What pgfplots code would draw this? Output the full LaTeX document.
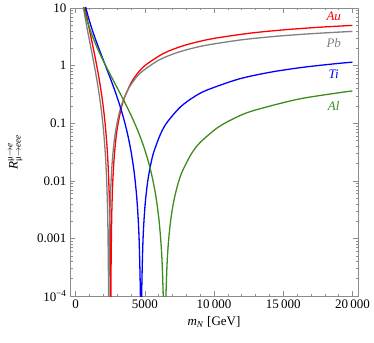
\documentclass[border=0pt]{standalone}
\usepackage{pgfplots}
\pgfplotsset{compat=1.18}
\usepackage{amsmath}
\usepackage{fontspec}
\setmainfont{Liberation Serif}

\definecolor{auRed}{RGB}{255,0,0}
\definecolor{pbGray}{RGB}{128,128,128}
\definecolor{tiBlue}{RGB}{0,0,255}
\definecolor{alGreen}{RGB}{60,140,30}

\begin{document}
\begin{tikzpicture}

\begin{axis}[
    at={(0,0)},
    anchor=south west,
    scale only axis,
    width=288pt,
    height=288pt,
    xmin=-400, xmax=20400,
    ymode=log,
    ymin=1e-4, ymax=10,
    scaled x ticks=false,
    xtick={0,5000,10000,15000,20000},
    xticklabels={0,5000,10\,000,15\,000,20\,000},
    minor x tick num=4,
    ytick={1e-4,1e-3,1e-2,1e-1,1,10},
    yticklabels={10\textsuperscript{−4},0.001,0.01,0.1,1,10},
    minor ytick={2e-4,3e-4,4e-4,5e-4,6e-4,7e-4,8e-4,9e-4,
                 2e-3,3e-3,4e-3,5e-3,6e-3,7e-3,8e-3,9e-3,
                 0.02,0.03,0.04,0.05,0.06,0.07,0.08,0.09,
                 0.2,0.3,0.4,0.5,0.6,0.7,0.8,0.9,
                 2,3,4,5,6,7,8,9},
    tick align=inside,
    major tick length=5pt,
    minor tick length=2.5pt,
    axis line style={black!45},
    every tick/.style={black!45},
    tick label style={font=\fontsize{13}{15}\selectfont},
    xlabel={\textit{m}\textsubscript{\textit{N}} [GeV]},
    ylabel={$\textit{R}^{\text{μ}\rightarrow\textit{e}}_{\text{μ}\rightarrow\textit{eee}}$},
    label style={font=\fontsize{13}{15}\selectfont},
    xlabel style={at={(axis description cs:0.5,-0.09)},anchor=center},
    ylabel style={at={(axis description cs:-0.19,0.5)},anchor=center},
    every axis plot/.append style={line width=1.3pt, smooth},
]

% Au
\addplot[auRed] coordinates {
(635,12.041) (762,8.209) (889,5.738) (1016,4.066) (1143,2.899) (1270,2.066)
(1397,1.4615) (1524,1.0196) (1651,0.6956) (1778,0.4589) (1905,0.28817)
(2032,0.16774) (2159,0.08628) (2286,0.035228) (2387.6,0.011887)
(2463.8,0.0028371) (2514.6,3.0584e-4) (2532.4,2.709e-5) (2540,1e-9)
(2547.6,2.702e-5) (2565.4,2.9657e-4) (2616.2,0.0025917) (2692.4,0.0099277)
(2794,0.026077) (2921,0.054854) (3048,0.091409) (3302,0.182) (3556,0.28871)
(4064,0.52813) (4572,0.78079) (5080,1.0329) (6350,1.6266) (7620,2.1509)
(8890,2.6089) (10160,3.0103) (12700,3.6794) (15240,4.2164) (17780,4.659)
(20000,4.988)
};

% Pb
\addplot[pbGray] coordinates {
(480,14.028) (600,9.181) (720,6.2594) (840,4.3748) (960,3.1002) (1080,2.2107)
(1200,1.5752) (1320,1.1144) (1440,0.7774) (1560,0.53037) (1680,0.34993)
(1800,0.21972) (1920,0.1279) (2040,0.065787) (2160,0.026861) (2256,0.0090637)
(2328,0.0021632) (2376,2.332e-4) (2392.8,2.066e-5) (2400,1e-9)
(2407.2,2.06e-5) (2424,2.2613e-4) (2472,0.0019761) (2544,0.0075696)
(2640,0.019883) (2760,0.041825) (2880,0.069697) (3120,0.13877) (3360,0.22013)
(3840,0.40269) (4320,0.59533) (4800,0.7876) (6000,1.2403) (7200,1.64)
(8400,1.9892) (9600,2.2953) (12000,2.8054) (14400,3.2149) (16800,3.5524)
(19200,3.8367) (20000,3.922)
};

% Ti
\addplot[tiBlue] coordinates {
(567.6,15.486) (709.5,10.887) (946,6.6464) (1182.5,4.35) (1419,2.9657)
(1655.5,2.0728) (1892,1.4689) (2128.5,1.0474) (2365,0.74633) (2601.5,0.528)
(2838,0.36834) (3074.5,0.25129) (3311,0.1658) (3547.5,0.1041) (3784,0.0606)
(4020.5,0.03117) (4257,0.012727) (4446.2,0.0042944) (4588.1,0.0010249)
(4682.7,1.1049e-4) (4715.8,9.79e-6) (4730,1e-9) (4744.2,9.76e-6)
(4777.3,1.0714e-4) (4871.9,9.3629e-4) (5013.8,0.0035865) (5203,0.0094208)
(5439.5,0.019817) (5676,0.033023) (6149,0.06575) (6622,0.1043) (7568,0.1908)
(8514,0.28207) (9460,0.37317) (11825,0.58764) (14190,0.77704)
(16555,0.94251) (18920,1.0875) (20000,1.1478)
};

% Al
\addplot[alGreen] coordinates {
(514.4,12.42) (643,9.0329) (771.6,6.8779) (964.5,4.8352) (1286,2.9519)
(1607.5,1.932) (1929,1.3172) (2250.5,0.92062) (2572,0.6524) (2893.5,0.46521)
(3215,0.33147) (3536.5,0.23451) (3858,0.16359) (4179.5,0.11161)
(4501,0.073638) (4822.5,0.046237) (5144,0.026915) (5465.5,0.013844)
(5787,0.0056525) (6044.2,0.0019073) (6237.1,4.5522e-4) (6365.7,4.907e-5)
(6410.7,4.35e-6) (6430,1e-9) (6449.3,4.34e-6) (6494.3,4.7585e-5)
(6622.9,4.1584e-4) (6815.8,0.0015929) (7073,0.0041841) (7394.5,0.0088014)
(7716,0.014667) (8359,0.029202) (9002,0.046324) (10288,0.084739)
(11574,0.12528) (12860,0.16574) (16075,0.26099) (19290,0.34511)
(20000,0.36215)
};

\node[auRed, font=\itshape\fontsize{13}{15}\selectfont] at (axis cs:18650,7.11) {Au};
\node[pbGray, font=\itshape\fontsize{13}{15}\selectfont] at (axis cs:18650,2.47) {Pb};
\node[tiBlue, font=\itshape\fontsize{13}{15}\selectfont] at (axis cs:18650,0.715) {Ti};
\node[alGreen, font=\itshape\fontsize{13}{15}\selectfont] at (axis cs:18650,0.199) {Al};

\end{axis}

\pgfresetboundingbox
\path[use as bounding box] (-70pt,-46pt) rectangle (304pt,296pt);

\end{tikzpicture}
\end{document}
